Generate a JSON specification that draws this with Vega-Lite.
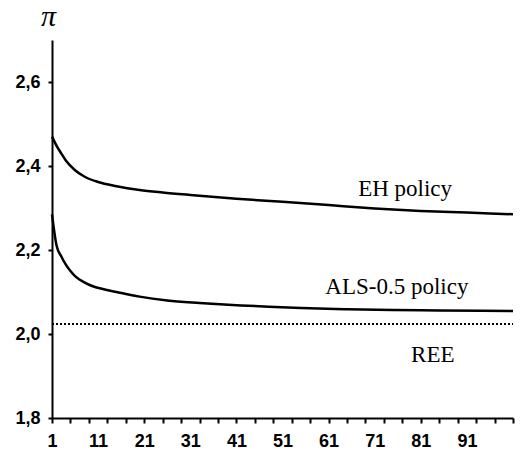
{
  "$schema": "https://vega.github.io/schema/vega-lite/v6.json",
  "autosize": "none",
  "width": 461,
  "height": 378,
  "padding": {"left": 52, "top": 40, "right": 9, "bottom": 40},
  "background": "white",
  "config": {"view": {"stroke": null}},
  "datasets": {
    "series": [
      {"series": "EH", "t": 1, "value": 2.47},
      {"series": "EH", "t": 2, "value": 2.448},
      {"series": "EH", "t": 3, "value": 2.43},
      {"series": "EH", "t": 4, "value": 2.413},
      {"series": "EH", "t": 6, "value": 2.39},
      {"series": "EH", "t": 8, "value": 2.375},
      {"series": "EH", "t": 11, "value": 2.362},
      {"series": "EH", "t": 15, "value": 2.352},
      {"series": "EH", "t": 20, "value": 2.343},
      {"series": "EH", "t": 25, "value": 2.337},
      {"series": "EH", "t": 31, "value": 2.331},
      {"series": "EH", "t": 41, "value": 2.322},
      {"series": "EH", "t": 51, "value": 2.315},
      {"series": "EH", "t": 61, "value": 2.307},
      {"series": "EH", "t": 71, "value": 2.299},
      {"series": "EH", "t": 81, "value": 2.293},
      {"series": "EH", "t": 91, "value": 2.289},
      {"series": "EH", "t": 101, "value": 2.285},
      {"series": "ALS", "t": 1, "value": 2.285},
      {"series": "ALS", "t": 2, "value": 2.21},
      {"series": "ALS", "t": 3, "value": 2.185},
      {"series": "ALS", "t": 4, "value": 2.165},
      {"series": "ALS", "t": 5, "value": 2.15},
      {"series": "ALS", "t": 6, "value": 2.138},
      {"series": "ALS", "t": 8, "value": 2.123},
      {"series": "ALS", "t": 10, "value": 2.113},
      {"series": "ALS", "t": 12, "value": 2.107},
      {"series": "ALS", "t": 15, "value": 2.1},
      {"series": "ALS", "t": 20, "value": 2.089},
      {"series": "ALS", "t": 26, "value": 2.08},
      {"series": "ALS", "t": 33, "value": 2.074},
      {"series": "ALS", "t": 42, "value": 2.068},
      {"series": "ALS", "t": 48, "value": 2.065},
      {"series": "ALS", "t": 55, "value": 2.062},
      {"series": "ALS", "t": 65, "value": 2.059},
      {"series": "ALS", "t": 75, "value": 2.057},
      {"series": "ALS", "t": 85, "value": 2.056},
      {"series": "ALS", "t": 101, "value": 2.055}
    ],
    "ree": [
      {"series": "REE", "t": 1, "value": 2.024},
      {"series": "REE", "t": 101, "value": 2.024}
    ],
    "labels": [
      {"text": "EH policy", "t": 77.6, "value": 2.329},
      {"text": "ALS-0.5 policy", "t": 75.8, "value": 2.095},
      {"text": "REE", "t": 83.6, "value": 1.933}
    ]
  },
  "encoding": {
    "x": {
      "field": "t",
      "type": "quantitative",
      "scale": {"domain": [1, 101], "nice": false, "zero": false},
      "axis": {
        "title": null,
        "grid": false,
        "values": [1, 5, 9, 11, 13, 17, 21, 25, 29, 31, 33, 37, 41, 45, 49, 51, 53, 57, 61, 65, 69, 71, 73, 77, 81, 85, 89, 91, 93, 97, 101],
        "labelExpr": "(datum.value - 1) % 10 === 0 && datum.value < 100 ? datum.value + '' : ''",
        "tickOpacity": {"condition": {"test": "(datum.value - 1) % 4 === 0", "value": 1}, "value": 0},
        "domainColor": "black",
        "domainWidth": 2,
        "tickColor": "black",
        "tickWidth": 2,
        "tickSize": 5,
        "labelFont": "Liberation Sans",
        "labelFontWeight": "bold",
        "labelFontSize": 18,
        "labelColor": "black",
        "labelPadding": 9,
        "labelFlush": false
      }
    },
    "y": {
      "field": "value",
      "type": "quantitative",
      "scale": {"domain": [1.8, 2.7], "nice": false, "zero": false},
      "axis": {
        "title": "π",
        "titleFont": "Liberation Serif",
        "titleFontStyle": "italic",
        "titleFontWeight": "normal",
        "titleFontSize": 30,
        "titleColor": "black",
        "titleAngle": 0,
        "titleAlign": "center",
        "titleBaseline": "alphabetic",
        "titleX": -4,
        "titleY": -15,
        "grid": false,
        "values": [1.8, 2.0, 2.2, 2.4, 2.6],
        "format": ".1f",
        "labelExpr": "replace(datum.label, '.', ',')",
        "domainColor": "black",
        "domainWidth": 2,
        "tickColor": "black",
        "tickWidth": 2,
        "tickSize": 4,
        "labelFont": "Liberation Sans",
        "labelFontWeight": "bold",
        "labelFontSize": 18,
        "labelColor": "black",
        "labelPadding": 8
      }
    }
  },
  "layer": [
    {
      "data": {"name": "ree"},
      "mark": {"type": "line", "color": "black", "strokeWidth": 2, "strokeDash": [2, 2]},
      "encoding": {"detail": {"field": "series"}}
    },
    {
      "data": {"name": "series"},
      "mark": {"type": "line", "color": "black", "strokeWidth": 2.5, "interpolate": "monotone"},
      "encoding": {"detail": {"field": "series"}}
    },
    {
      "data": {"name": "labels"},
      "mark": {"type": "text", "font": "Liberation Serif", "fontSize": 23, "color": "black", "align": "center", "baseline": "alphabetic"},
      "encoding": {"text": {"field": "text"}}
    }
  ]
}
